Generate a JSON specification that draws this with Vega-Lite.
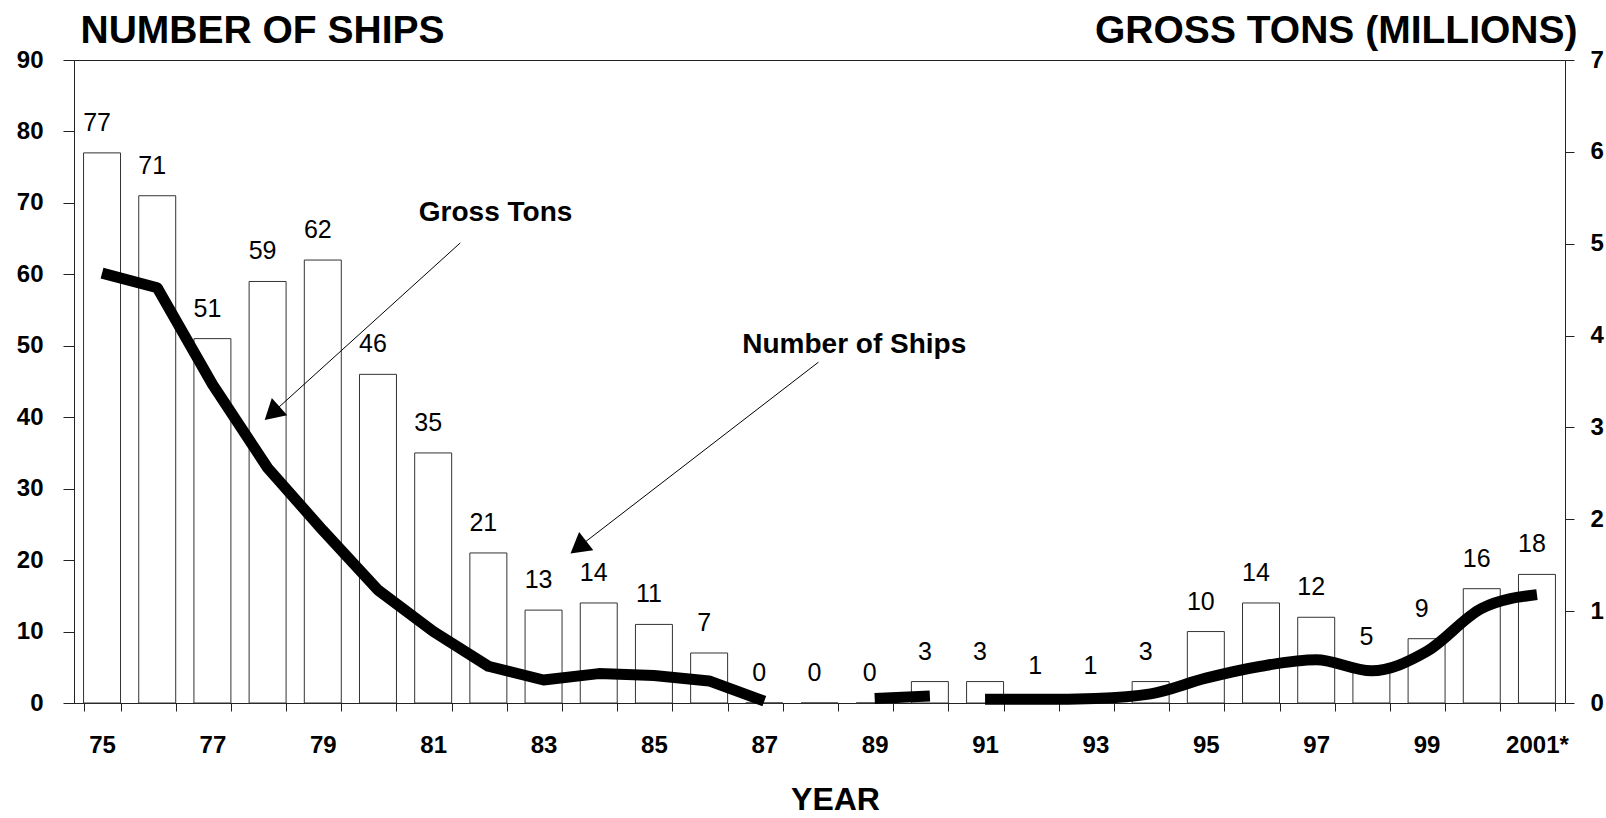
{
  "$schema": "https://vega.github.io/schema/vega-lite/v6.json",
  "width": 1491,
  "height": 643,
  "autosize": {"type": "none"},
  "padding": {"left": 74, "top": 60, "right": 41, "bottom": 115},
  "background": "white",
  "config": {
    "view": {"stroke": "#222", "strokeWidth": 1},
    "font": "Liberation Sans",
    "axis": {"domainColor": "#222", "tickColor": "#222", "labelColor": "#000", "titleColor": "#000", "grid": false, "labelFont": "Liberation Sans", "titleFont": "Liberation Sans"},
    "text": {"font": "Liberation Sans"}
  },
  "datasets": {
    "ships": [
      {"year": "75", "ships": 77, "tons": 4.68, "seg": 1},
      {"year": "76", "ships": 71, "tons": 4.52, "seg": 1},
      {"year": "77", "ships": 51, "tons": 3.47, "seg": 1},
      {"year": "78", "ships": 59, "tons": 2.56, "seg": 1},
      {"year": "79", "ships": 62, "tons": 1.88, "seg": 1},
      {"year": "80", "ships": 46, "tons": 1.23, "seg": 1},
      {"year": "81", "ships": 35, "tons": 0.78, "seg": 1},
      {"year": "82", "ships": 21, "tons": 0.40, "seg": 1},
      {"year": "83", "ships": 13, "tons": 0.25, "seg": 1},
      {"year": "84", "ships": 14, "tons": 0.32, "seg": 1},
      {"year": "85", "ships": 11, "tons": 0.30, "seg": 1},
      {"year": "86", "ships": 7, "tons": 0.24, "seg": 1},
      {"year": "87", "ships": 0, "tons": 0.02, "seg": 1},
      {"year": "88", "ships": 0, "tons": null, "seg": null},
      {"year": "89", "ships": 0, "tons": 0.05, "seg": 2},
      {"year": "90", "ships": 3, "tons": 0.075, "seg": 2},
      {"year": "91", "ships": 3, "tons": 0.04, "seg": 3},
      {"year": "92", "ships": 1, "tons": 0.04, "seg": 3},
      {"year": "93", "ships": 1, "tons": 0.05, "seg": 3},
      {"year": "94", "ships": 3, "tons": 0.10, "seg": 3},
      {"year": "95", "ships": 10, "tons": 0.27, "seg": 3},
      {"year": "96", "ships": 14, "tons": 0.40, "seg": 3},
      {"year": "97", "ships": 12, "tons": 0.47, "seg": 3},
      {"year": "98", "ships": 5, "tons": 0.35, "seg": 3},
      {"year": "99", "ships": 9, "tons": 0.56, "seg": 3},
      {"year": "2000", "ships": 16, "tons": 1.03, "seg": 3},
      {"year": "2001*", "ships": 18, "tons": 1.18, "seg": 3}
    ],
    "notes": [
      {"note": "Gross Tons", "tx": 82.13, "ty": 68.6, "ax": 81.49, "ay": 64.4, "hx": 78.08, "hy": 40.55},
      {"note": "Number of Ships", "tx": 88.63, "ty": 50.1, "ax": 87.98, "ay": 47.7, "hx": 83.63, "hy": 21.8}
    ]
  },
  "layer": [
    {
      "data": {"name": "ships"},
      "mark": {"type": "bar", "fill": "white", "stroke": "#333", "strokeWidth": 1},
      "encoding": {
        "x": {
          "field": "year", "type": "nominal",
          "scale": {"type": "band", "domain": ["75","76","77","78","79","80","81","82","83","84","85","86","87","88","89","90","91","92","93","94","95","96","97","98","99","2000","2001*"], "paddingInner": 0.33, "paddingOuter": 0.173},
          "axis": {
            "title": "YEAR", "titleFontSize": 32, "titleFontWeight": "bold", "titleX": 761, "titleY": 106, "titleAlign": "center", "titleBaseline": "alphabetic",
            "labelExpr": "indexof(['75','77','79','81','83','85','87','89','91','93','95','97','99','2001*'], datum.value) >= 0 ? datum.label : ''",
            "labelAngle": 0, "labelFontSize": 24, "labelFontWeight": "bold", "labelPadding": 22,
            "tickBand": "extent", "tickSize": 8
          }
        },
        "y": {
          "field": "ships", "type": "quantitative",
          "scale": {"domain": [0, 90], "nice": false},
          "axis": {
            "values": [0, 10, 20, 30, 40, 50, 60, 70, 80, 90],
            "title": "NUMBER OF SHIPS", "titleAngle": 0, "titleAlign": "left", "titleBaseline": "alphabetic", "titleX": 6, "titleY": -18, "titleFontSize": 39, "titleFontWeight": "bold",
            "labelFontSize": 24, "labelFontWeight": "bold", "tickSize": 11, "labelPadding": 20
          }
        }
      }
    },
    {
      "data": {"name": "ships"},
      "mark": {"type": "text", "fontSize": 25, "baseline": "alphabetic", "align": "center", "dy": -22, "dx": -5, "color": "#000"},
      "encoding": {
        "x": {"field": "year", "type": "nominal", "scale": {"type": "band", "domain": ["75","76","77","78","79","80","81","82","83","84","85","86","87","88","89","90","91","92","93","94","95","96","97","98","99","2000","2001*"], "paddingInner": 0.33, "paddingOuter": 0.173}, "axis": null},
        "y": {"field": "ships", "type": "quantitative", "scale": {"domain": [0, 90], "nice": false}, "axis": null},
        "text": {"field": "ships", "type": "quantitative"}
      }
    },
    {
      "data": {"name": "ships"},
      "transform": [{"filter": "datum.seg == 1 || datum.seg == 2"}],
      "mark": {"type": "line", "color": "#000", "strokeWidth": 11, "interpolate": "linear", "strokeJoin": "round"},
      "encoding": {
        "x": {"field": "year", "type": "nominal", "scale": {"type": "band", "domain": ["75","76","77","78","79","80","81","82","83","84","85","86","87","88","89","90","91","92","93","94","95","96","97","98","99","2000","2001*"], "paddingInner": 0.33, "paddingOuter": 0.173}, "axis": null},
        "y": {
          "field": "tons", "type": "quantitative",
          "scale": {"domain": [0, 7], "nice": false},
          "axis": {
            "orient": "right", "values": [0, 1, 2, 3, 4, 5, 6, 7],
            "title": "GROSS TONS (MILLIONS)", "titleAngle": 0, "titleAlign": "right", "titleBaseline": "alphabetic", "titleX": 12, "titleY": -18, "titleFontSize": 39, "titleFontWeight": "bold",
            "labelFontSize": 24, "labelFontWeight": "bold", "tickSize": 9, "labelPadding": 16
          }
        },
        "detail": {"field": "seg", "type": "nominal"}
      }
    },
    {
      "data": {"name": "ships"},
      "transform": [{"filter": "datum.seg == 3"}],
      "mark": {"type": "line", "color": "#000", "strokeWidth": 11, "interpolate": "monotone"},
      "encoding": {
        "x": {"field": "year", "type": "nominal", "scale": {"type": "band", "domain": ["75","76","77","78","79","80","81","82","83","84","85","86","87","88","89","90","91","92","93","94","95","96","97","98","99","2000","2001*"], "paddingInner": 0.33, "paddingOuter": 0.173}, "axis": null},
        "y": {"field": "tons", "type": "quantitative", "scale": {"domain": [0, 7], "nice": false}, "axis": null}
      }
    },
    {
      "data": {"name": "notes"},
      "mark": {"type": "rule", "color": "#000", "strokeWidth": 1},
      "encoding": {
        "x": {"field": "ax", "type": "quantitative", "scale": {"domain": [74.49, 101.51], "nice": false, "zero": false}, "axis": null},
        "x2": {"field": "hx"},
        "y": {"field": "ay", "type": "quantitative", "scale": {"domain": [0, 90], "nice": false}, "axis": null},
        "y2": {"field": "hy"}
      }
    },
    {
      "data": {"name": "notes"},
      "transform": [{"filter": "datum.note == 'Gross Tons'"}],
      "mark": {"type": "point", "shape": "triangle-up", "filled": true, "color": "#000", "size": 529, "angle": 228, "opacity": 1},
      "encoding": {
        "x": {"field": "hx", "type": "quantitative", "scale": {"domain": [74.49, 101.51], "nice": false, "zero": false}, "axis": null},
        "y": {"field": "hy", "type": "quantitative", "scale": {"domain": [0, 90], "nice": false}, "axis": null}
      }
    },
    {
      "data": {"name": "notes"},
      "transform": [{"filter": "datum.note == 'Number of Ships'"}],
      "mark": {"type": "point", "shape": "triangle-up", "filled": true, "color": "#000", "size": 529, "angle": 232, "opacity": 1},
      "encoding": {
        "x": {"field": "hx", "type": "quantitative", "scale": {"domain": [74.49, 101.51], "nice": false, "zero": false}, "axis": null},
        "y": {"field": "hy", "type": "quantitative", "scale": {"domain": [0, 90], "nice": false}, "axis": null}
      }
    },
    {
      "data": {"name": "notes"},
      "mark": {"type": "text", "fontSize": 28, "fontWeight": "bold", "align": "center", "baseline": "middle", "color": "#000"},
      "encoding": {
        "x": {"field": "tx", "type": "quantitative", "scale": {"domain": [74.49, 101.51], "nice": false, "zero": false}, "axis": null},
        "y": {"field": "ty", "type": "quantitative", "scale": {"domain": [0, 90], "nice": false}, "axis": null},
        "text": {"field": "note", "type": "nominal"}
      }
    }
  ],
  "resolve": {"scale": {"x": "independent", "y": "independent"}}
}
